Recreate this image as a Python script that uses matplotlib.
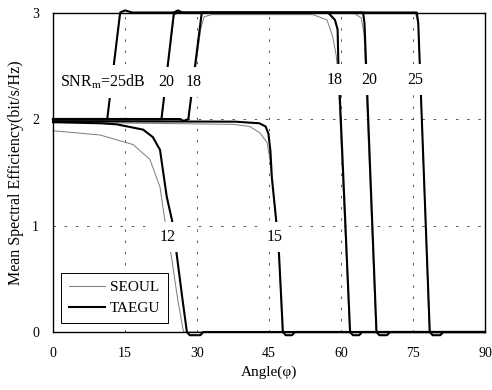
import matplotlib
matplotlib.use("Agg")
import matplotlib.pyplot as plt

plt.rcParams["font.family"] = ["Liberation Serif", "DejaVu Serif"]
plt.rcParams["mathtext.fontset"] = "custom"
plt.rcParams["mathtext.rm"] = "Liberation Serif"

# mean spectral efficiency vs angle, one pair of curves per SNR_m
angle_25_taegu = [0, 11.3, 14.0, 15.0, 16.5, 75.8, 76.1, 78.5, 79.1, 80.7, 81.3, 90]
eff_25_taegu = [2.0, 2.0, 3.0, 3.02, 3.0, 3.0, 2.9, 0.0, -0.03, -0.03, 0.0, 0.0]
angle_25_seoul = [0, 11.3, 13.9, 75.5, 76.1, 78.4, 90]
eff_25_seoul = [1.99, 1.99, 2.99, 2.99, 2.9, 0.0, 0.0]

angle_20_taegu = [0, 22.6, 25.2, 26.0, 27.0, 64.6, 64.9, 67.4, 68.0, 69.6, 70.2, 90]
eff_20_taegu = [2.0, 2.0, 3.0, 3.02, 3.0, 3.0, 2.9, 0.0, -0.03, -0.03, 0.0, 0.0]
angle_20_seoul = [0, 22.6, 25.2, 26.0, 62.5, 64.2, 64.8, 67.3, 90]
eff_20_seoul = [1.99, 1.99, 2.97, 3.0, 3.0, 2.95, 2.8, 0.0, 0.0]

angle_18_taegu = [0, 26.5, 27.2, 28.2, 31.0, 57.3, 58.75, 59.3, 59.45, 61.9, 62.5, 63.8, 64.4, 90]
eff_18_taegu = [2.0, 2.0, 1.98, 2.0, 3.0, 3.0, 2.93, 2.84, 2.53, 0.0, -0.03, -0.03, 0.0, 0.0]
angle_18_seoul = [0, 28.2, 30.8, 31.5, 33.0, 54.2, 57.1, 58.3, 59.0, 59.4, 61.8, 90]
eff_18_seoul = [1.99, 1.99, 2.85, 2.96, 2.98, 2.98, 2.93, 2.77, 2.6, 2.4, 0.0, 0.0]

angle_15_taegu = [0, 38.0, 43.0, 44.3, 44.9, 45.3, 45.6, 46.5, 47.1, 47.9, 48.5, 49.8, 50.4, 90]
eff_15_taegu = [1.98, 1.975, 1.96, 1.93, 1.86, 1.7, 1.45, 1.05, 0.72, 0.0, -0.03, -0.03, 0.0, 0.0]
angle_15_seoul = [0, 37.5, 41.0, 43.1, 44.6, 45.2, 45.6, 46.5, 47.1, 47.8, 90]
eff_15_seoul = [1.97, 1.95, 1.93, 1.87, 1.78, 1.62, 1.45, 1.02, 0.7, 0.0, 0.0]

angle_12_taegu = [0, 10, 13.3, 18.8, 20.8, 22.3, 22.9, 23.7, 24.8, 25.8, 27.0, 27.9, 28.5, 30.7, 31.3, 90]
eff_12_taegu = [1.97, 1.96, 1.95, 1.90, 1.83, 1.71, 1.52, 1.27, 1.05, 0.72, 0.3, 0.0, -0.03, -0.03, 0.0, 0.0]
angle_12_seoul = [0, 9.8, 16.7, 20.2, 22.3, 23.3, 24.7, 26.0, 27.2, 90]
eff_12_seoul = [1.89, 1.85, 1.76, 1.62, 1.36, 1.05, 0.7, 0.3, 0.0, 0.0]

seoul_curves = [(angle_25_seoul, eff_25_seoul), (angle_20_seoul, eff_20_seoul),
                (angle_18_seoul, eff_18_seoul), (angle_15_seoul, eff_15_seoul),
                (angle_12_seoul, eff_12_seoul)]
taegu_curves = [(angle_25_taegu, eff_25_taegu), (angle_20_taegu, eff_20_taegu),
                (angle_18_taegu, eff_18_taegu), (angle_15_taegu, eff_15_taegu),
                (angle_12_taegu, eff_12_taegu)]

# inline SNR labels: (text, angle, efficiency)
snr_labels = [
    ("SNR$_{\\mathregular{m}}$=25dB", 10.3, 2.35),
    ("20", 23.6, 2.35),
    ("18", 29.4, 2.35),
    ("18", 58.6, 2.37),
    ("20", 65.9, 2.37),
    ("25", 75.4, 2.37),
    ("12", 23.8, 0.89),
    ("15", 46.1, 0.89),
]

x_ticks = [0, 15, 30, 45, 60, 75, 90]
y_ticks = [0, 1, 2, 3]

fig = plt.figure(figsize=(4.92, 3.90), dpi=100)
ax = fig.add_axes([0.1077, 0.1487, 0.878, 0.8192])

for i, (a, e) in enumerate(seoul_curves):
    ax.plot(a, e, color="#7a7a7a", lw=0.7, clip_on=False, zorder=3,
            label="SEOUL" if i == 0 else None)
for i, (a, e) in enumerate(taegu_curves):
    ax.plot(a, e, color="black", lw=1.5, clip_on=False, zorder=4,
            label="TAEGU" if i == 0 else None)

for txt, a, e in snr_labels:
    ax.text(a, e, txt, fontsize=11.5, ha="center", va="center", zorder=6,
            bbox=dict(boxstyle="square,pad=0.45", fc="white", ec="none"))

ax.set_xlim(0, 90)
ax.set_ylim(0, 3)
ax.set_xticks(x_ticks)
ax.set_yticks(y_ticks)
ax.tick_params(length=0, labelsize=10)
ax.tick_params(axis="x", pad=11)
ax.tick_params(axis="y", pad=10)
ax.grid(True, color="#555555", lw=0.7, linestyle=(0, (2.5, 9)))
for s in ax.spines.values():
    s.set_linewidth(1.0)
    s.set_zorder(10)

ax.set_xlabel("Angle(\u03c6)", fontsize=11, labelpad=4)
ax.set_ylabel("Mean Spectral Efficiency(bit/s/Hz)", fontsize=11.5, labelpad=6)

leg = ax.legend(loc="lower left", bbox_to_anchor=(0.0185, 0.028), borderaxespad=0,
                fancybox=False, edgecolor="black", fontsize=11, handlelength=2.4,
                handletextpad=0.3, borderpad=0.5, labelspacing=0.5, framealpha=1)
leg.get_frame().set_linewidth(0.7)
leg.set_zorder(7)

fig.savefig("out.png", dpi=100)
